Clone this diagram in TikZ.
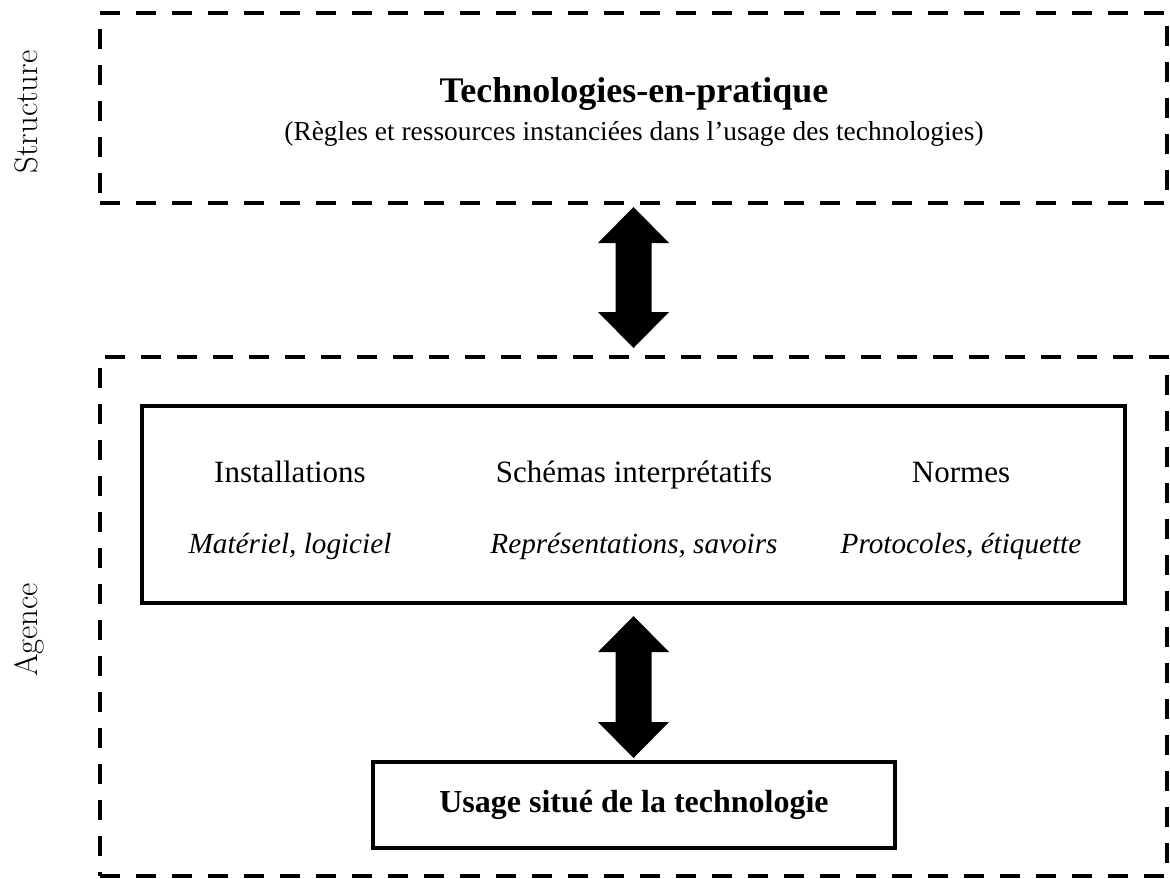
\documentclass[tikz,border=0pt]{standalone}
\usepackage{fontspec}
\usetikzlibrary{calc}
\newfontfamily\tnr{Liberation Serif}
\tikzset{
  dashbox/.style={draw, line width=2.25pt, dash pattern=on 10pt off 8pt, inner sep=0pt, outer sep=0pt},
  solidbox/.style={draw, line width=1.9pt, inner sep=0pt, outer sep=0pt},
  sidelabel/.style={rotate=90, anchor=base, font=\fontsize{16.3}{19}\selectfont},
  collabel/.style={anchor=base, font=\tnr\fontsize{15.5}{18}\selectfont},
  colitalic/.style={anchor=base, font=\tnr\itshape\fontsize{14.6}{17}\selectfont},
}
\newcommand\biarrow[4]{% from node anchor, gap1, to node anchor, gap2 (in pt)
  \fill let \p1=($(#1)+(0,-#2)$), \p2=($(#3)+(0,#4)$) in
    (\x1,\y1) -- ({\x1+17.75pt},{\y1-18pt}) -- ({\x1+9pt},{\y1-18pt})
    -- ({\x1+9pt},{\y2+18pt}) -- ({\x1+17.75pt},{\y2+18pt}) -- (\x1,\y2)
    -- ({\x1-17.75pt},{\y2+18pt}) -- ({\x1-9pt},{\y2+18pt})
    -- ({\x1-9pt},{\y1-18pt}) -- ({\x1-17.75pt},{\y1-18pt}) -- cycle;}
\begin{document}
\begin{tikzpicture}[x=0.5pt,y=-0.5pt]
\useasboundingbox (0,0) rectangle (1170,878);
% boxes
\node[dashbox, minimum width=533.5pt, minimum height=95pt] (struct) at (633.5,108) {};
\node[dashbox, minimum width=533.5pt, minimum height=259.5pt] (agence) at (633.5,616.5) {};
\node[solidbox, minimum width=491.5pt, minimum height=98.5pt] (inner) at (633.5,504.5) {};
\node[solidbox, minimum width=261pt, minimum height=43pt] (usage) at (634,805) {};
% side labels
\node[sidelabel] (lstruct) at (37,112) {Structure};
\node[sidelabel] (lagence) at (37,630) {Agence};
% top texts
\node[anchor=base, font=\tnr\bfseries\fontsize{18}{21}\selectfont] (title) at (634,102) {Technologies-en-pratique};
\node[anchor=base, font=\tnr\fontsize{13.7}{16}\selectfont] (subtitle) at (634,140) {(Règles et ressources instanciées dans l’usage des technologies)};
% columns
\node[collabel] (c1) at (290,482) {Installations};
\node[colitalic] (c1b) at (290,553) {Matériel, logiciel};
\node[collabel] (c2) at (634,482) {Schémas interprétatifs};
\node[colitalic] (c2b) at (634,553) {Représentations, savoirs};
\node[collabel] (c3) at (961,482) {Normes};
\node[colitalic] (c3b) at (961,553) {Protocoles, étiquette};
% bottom text
\node[anchor=base, font=\tnr\bfseries\fontsize{16}{19}\selectfont] (usagetxt) at (634,812) {Usage situé de la technologie};
% arrows
\biarrow{struct.south}{2pt}{agence.north}{4.5pt}
\biarrow{inner.south}{6.5pt}{usage.north}{2pt}
\end{tikzpicture}
\end{document}
